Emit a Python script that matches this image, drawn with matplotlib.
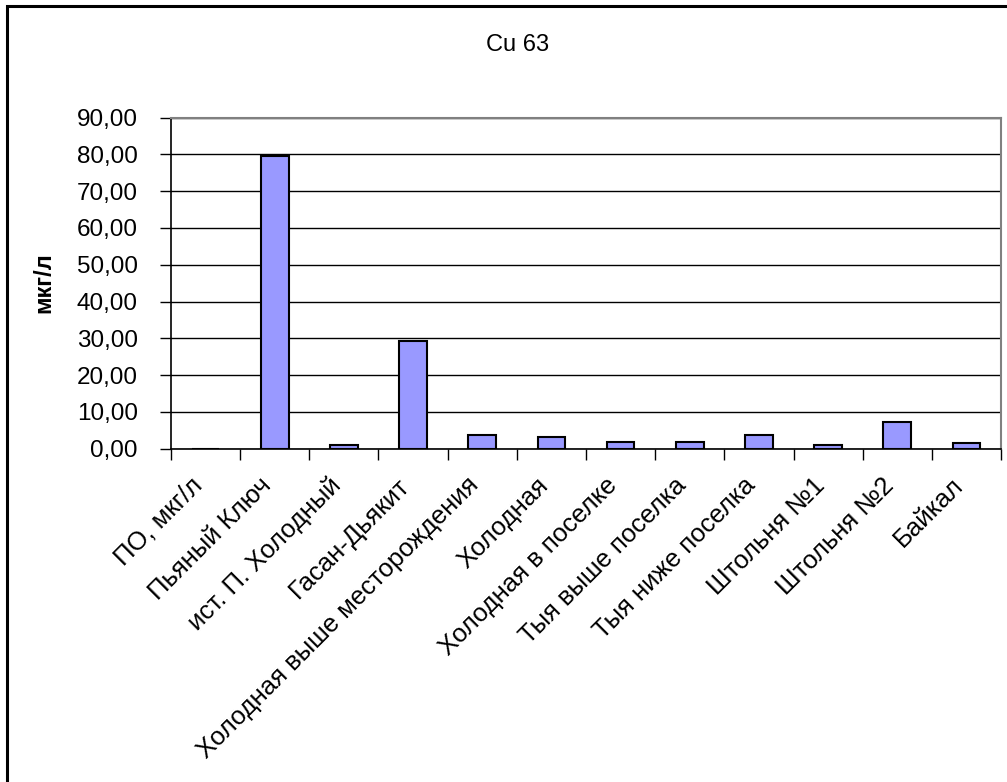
import matplotlib
matplotlib.use('Agg')
import matplotlib.pyplot as plt
import numpy as np
from matplotlib.patches import Rectangle
from matplotlib.transforms import ScaledTranslation

plt.rcParams['font.family'] = ['Liberation Sans', 'DejaVu Sans']

# Cu 63 concentrations, mkg/l
sites = ['ПО, мкг/л', 'Пьяный Ключ', 'ист. П. Холодный', 'Гасан-Дьякит',
         'Холодная выше месторождения', 'Холодная', 'Холодная в поселке',
         'Тыя выше поселка', 'Тыя ниже поселка', 'Штольня №1', 'Штольня №2',
         'Байкал']
cu63 = [0.0, 79.6, 1.0, 29.3, 3.7, 3.2, 1.9, 1.9, 3.7, 1.1, 7.2, 1.45]
yticks = [0, 10, 20, 30, 40, 50, 60, 70, 80, 90]

fig = plt.figure(figsize=(10.07, 7.82), dpi=100)
ax = fig.add_axes([171 / 1007, 1 - 448.7 / 782, 830 / 1007, 331.2 / 782])

# outer chart frame
fig.patches.append(Rectangle((7 / 1007, -0.1), 1.2, 1 - 6 / 782 + 0.1,
                             transform=fig.transFigure, fill=False,
                             edgecolor='black', linewidth=2.2))

x = np.arange(len(sites))
ax.bar(x, cu63, width=0.4, color='#9999ff', edgecolor='black',
       linewidth=1.5, zorder=3)

ax.set_xlim(-0.5, len(sites) - 0.5)
ax.set_ylim(0, 90)
ax.set_yticks(yticks)
ax.set_yticklabels(['%d,00' % v for v in yticks], fontsize=17.5)
ax.yaxis.grid(True, color='black', linewidth=1)
ax.set_axisbelow(True)

# ticks between categories, labels centered (drawn as text)
ax.set_xticks(np.arange(-0.5, len(sites)))
ax.set_xticklabels([])
ax.tick_params(axis='x', direction='out', length=8, width=1)
ax.tick_params(axis='y', direction='out', length=8, width=1, pad=16)

lbl_tr = ax.get_xaxis_transform() + ScaledTranslation(-0.07, -0.33, fig.dpi_scale_trans)
for i, name in enumerate(sites):
    ax.text(x[i], 0, name, transform=lbl_tr, rotation=45, ha='right',
            va='center', rotation_mode='anchor', fontsize=18.5)

for s in ['top', 'right']:
    ax.spines[s].set_color('#808080')
    ax.spines[s].set_linewidth(1.5)
for s in ['left', 'bottom']:
    ax.spines[s].set_color('black')
    ax.spines[s].set_linewidth(1.2)

ax.set_ylabel('мкг/л', fontsize=17, fontweight='bold')
ax.yaxis.set_label_coords((55 - 171) / 830, 0.5)
fig.text(518 / 1007, 1 - 45 / 782, 'Cu 63', ha='center', va='center',
         fontsize=17)

fig.savefig('out.png', dpi=100)
